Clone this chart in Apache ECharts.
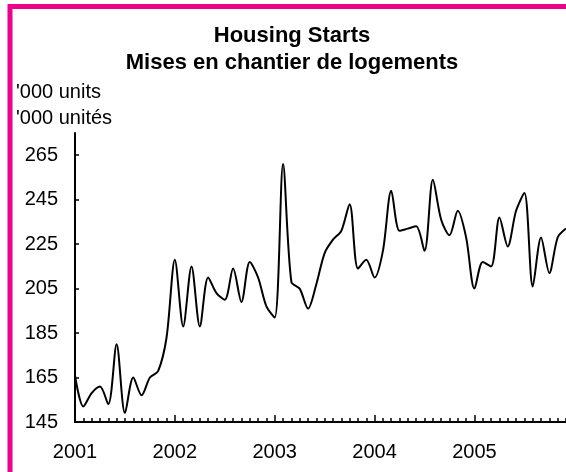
<!DOCTYPE html>
<html>
<head>
<meta charset="utf-8">
<script src="https://cdn.jsdelivr.net/npm/echarts@6/dist/echarts.min.js"></script>
<style>
  html, body { margin: 0; padding: 0; background: #fff; }
  #chart { width: 566px; height: 472px; }
</style>
</head>
<body>
<div id="chart"></div>
<script>
// monthly housing starts, '000 units, Jan 2001 - Dec 2005
var years = ['2001', '2002', '2003', '2004', '2005'];
var months = ['01', '02', '03', '04', '05', '06', '07', '08', '09', '10', '11', '12'];
var starts2001 = [166, 152, 158, 161, 153, 180, 149, 165, 157, 165, 168, 183];
var starts2002 = [218, 188, 215, 188, 210, 203, 200, 214, 199, 217, 210, 197];
var starts2003 = [192, 261, 208, 205, 196, 207, 221, 227, 231, 243, 214, 218];
var starts2004 = [210, 222, 249, 231, 232, 233, 222, 254, 236, 229, 240, 228];
var starts2005 = [205, 217, 215, 237, 224, 240, 248, 206, 228, 212, 228, 232];
var yTicks = [145, 165, 185, 205, 225, 245, 265];

var categories = [];
years.forEach(function (y) {
  months.forEach(function (m) { categories.push(y + '-' + m); });
});
var starts = [].concat(starts2001, starts2002, starts2003, starts2004, starts2005);

var font = "'Liberation Sans', Arial, sans-serif";
var pink = '#EC008C';

var chart = echarts.init(document.getElementById('chart'));

chart.setOption({
  animation: false,
  backgroundColor: '#fff',
  title: [
    {
      text: 'Housing Starts\nMises en chantier de logements',
      left: 292,
      top: 22,
      padding: 0,
      textAlign: 'center',
      textStyle: {
        fontFamily: font,
        fontSize: 22,
        fontWeight: 'bold',
        color: '#000',
        lineHeight: 27
      }
    },
    {
      text: "'000 units\n'000 unités",
      left: 16,
      top: 79,
      padding: 0,
      textStyle: {
        fontFamily: font,
        fontSize: 20,
        fontWeight: 'normal',
        color: '#000',
        lineHeight: 26
      }
    }
  ],
  graphic: [
    {
      // pink frame (cropped on right and bottom)
      type: 'rect',
      shape: { x: 10, y: 6.5, width: 700, height: 700 },
      style: { fill: 'none', stroke: pink, lineWidth: 5 },
      silent: true
    }
  ],
  grid: {
    left: 75,
    right: 0,
    top: 133,
    bottom: 50
  },
  xAxis: [
    {
      type: 'category',
      data: categories,
      boundaryGap: false,
      axisLine: { lineStyle: { color: '#000', width: 2 } },
      axisTick: {
        inside: true,
        length: 4,
        interval: 0,
        lineStyle: { color: '#000', width: 1.5 }
      },
      axisLabel: {
        interval: function (i) { return i % 12 === 0; },
        formatter: function (v) { return v.slice(0, 4); },
        margin: 20,
        fontFamily: font,
        fontSize: 20,
        color: '#000'
      },
      splitLine: { show: false }
    },
    {
      // taller year ticks
      type: 'category',
      data: categories,
      boundaryGap: false,
      position: 'bottom',
      axisLine: { show: false },
      axisTick: {
        inside: true,
        length: 7,
        interval: function (i) { return i % 12 === 0; },
        lineStyle: { color: '#000', width: 1.5 }
      },
      axisLabel: { show: false },
      splitLine: { show: false }
    }
  ],
  yAxis: {
    type: 'value',
    min: 145,
    max: 275,
    axisLine: { show: true, lineStyle: { color: '#000', width: 2 } },
    axisTick: {
      show: true,
      inside: true,
      length: 4,
      customValues: yTicks,
      lineStyle: { color: '#000', width: 1.5 }
    },
    axisLabel: {
      customValues: yTicks,
      margin: 17,
      fontFamily: font,
      fontSize: 20,
      color: '#000'
    },
    splitLine: { show: false }
  },
  series: [
    {
      name: 'Housing Starts',
      type: 'line',
      data: starts,
      xAxisIndex: 0,
      smooth: 0.3,
      showSymbol: false,
      lineStyle: { color: '#000', width: 2 }
    }
  ]
});
</script>
</body>
</html>
